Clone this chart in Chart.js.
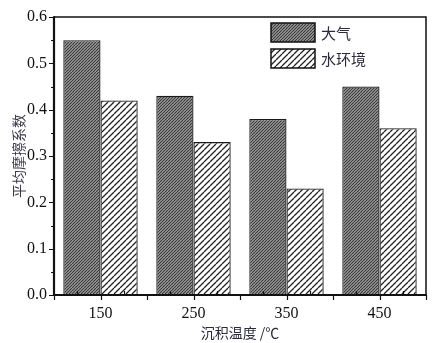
<!DOCTYPE html>
<html>
<head>
<meta charset="utf-8">
<script src="https://cdn.jsdelivr.net/npm/chart.js@4/dist/chart.umd.min.js"></script>
<style>
html,body{margin:0;padding:0;background:#fff;}
#wrap{width:448px;height:343px;}
</style>
</head>
<body>
<div id="wrap"><canvas id="c" width="448" height="343"></canvas></div>
<script>
const categories = ['150', '250', '350', '450'];
const seriesNames = ['大气', '水环境'];
const atmosphere = [0.55, 0.43, 0.38, 0.45];
const water = [0.42, 0.33, 0.23, 0.36];
const yTicks = [0, 0.1, 0.2, 0.3, 0.4, 0.5, 0.6];

function makePattern(bg, line, period, lw) {
  const c = document.createElement('canvas');
  c.width = period; c.height = period;
  const g = c.getContext('2d');
  g.fillStyle = bg; g.fillRect(0, 0, period, period);
  g.strokeStyle = line; g.lineWidth = lw;
  g.beginPath();
  for (let k = -1; k <= 1; k++) {
    g.moveTo(k * period, period);
    g.lineTo(k * period + period, 0);
  }
  g.stroke();
  return g.createPattern(c, 'repeat');
}
const ctx0 = document.getElementById('c').getContext('2d');
const darkPat = makePattern('#a4a4a4', '#363636', 3, 1.1);
const lightPat = makePattern('#ffffff', '#222222', 6, 1.3);

const L = 54, R = 426, T = 17, B = 295;

const framePlugin = {
  id: 'frame',
  afterDraw(chart) {
    const c = chart.ctx, a = chart.chartArea;
    const xs = chart.scales.x, ys = chart.scales.y;
    c.save();
    c.strokeStyle = '#111';
    c.lineWidth = 1.5;
    c.beginPath();
    c.moveTo(a.left, a.top); c.lineTo(a.right, a.top); c.lineTo(a.right, a.bottom);
    c.stroke();
    c.lineWidth = 2.2;
    c.beginPath();
    c.moveTo(a.left, a.top - 0.7); c.lineTo(a.left, a.bottom); c.lineTo(a.right + 0.7, a.bottom);
    c.stroke();
    c.lineWidth = 1.2;
    c.beginPath();
    for (let v = 0; v <= 0.6001; v += 0.05) {
      const y = Math.round(ys.getPixelForValue(v)) + 0.5;
      const major = Math.abs(v * 10 - Math.round(v * 10)) < 1e-6;
      c.moveTo(a.left - (major ? 5 : 3), y); c.lineTo(a.left, y);
    }
    c.stroke();
    const w = (xs.getPixelForValue(1) - xs.getPixelForValue(0));
    c.beginPath();
    for (let q = 0; q <= 16; q++) {
      const x = Math.round(a.left + q * w / 4) + 0.5;
      if (q % 2 === 0) { c.moveTo(x, a.bottom); c.lineTo(x, a.bottom + 5); }
      else { c.moveTo(x, a.bottom); c.lineTo(x, a.bottom - 4); }
    }
    c.stroke();
    const items = [
      {bg: chart.data.datasets[0].backgroundColor, label: chart.data.datasets[0].label, y: 23},
      {bg: chart.data.datasets[1].backgroundColor, label: chart.data.datasets[1].label, y: 49}
    ];
    c.font = '15px "Noto Sans CJK SC"';
    c.textBaseline = 'middle';
    c.textAlign = 'left';
    for (const it of items) {
      c.fillStyle = it.bg;
      c.fillRect(271, it.y, 44, 19);
      c.lineWidth = 1.5;
      c.strokeStyle = '#111';
      c.strokeRect(271, it.y, 44, 19);
      c.fillStyle = '#2a2a3a';
      c.fillText(it.label, 321, it.y + 10);
    }
    c.restore();
  }
};

new Chart(ctx0, {
  type: 'bar',
  data: {
    labels: categories,
    datasets: [
      {label: seriesNames[0], data: atmosphere, backgroundColor: darkPat, borderColor: '#1a1a1a', borderWidth: 1.3, categoryPercentage: 0.8, barPercentage: 1.0},
      {label: seriesNames[1], data: water, backgroundColor: lightPat, borderColor: '#1a1a1a', borderWidth: 1.3, categoryPercentage: 0.8, barPercentage: 1.0}
    ]
  },
  options: {
    responsive: false,
    animation: false,
    devicePixelRatio: 1,
    layout: {padding: {top: T, right: 448 - R, left: 0, bottom: 0}},
    plugins: {legend: {display: false}, tooltip: {enabled: false}},
    scales: {
      x: {
        grid: {display: false, drawTicks: false},
        border: {display: false},
        ticks: {color: '#111', font: {family: '"Liberation Serif"', size: 16}, padding: 9},
        title: {display: true, text: '沉积温度 /℃', color: '#2a2a3a', font: {family: '"Noto Sans CJK SC"', size: 14}, padding: {top: 0, bottom: 2}},
        afterFit(s) { s.height = 343 - B; }
      },
      y: {
        min: 0, max: 0.6,
        afterBuildTicks(s) { s.ticks = yTicks.map(v => ({value: v})); },
        grid: {display: false, drawTicks: false},
        border: {display: false},
        ticks: {color: '#111', font: {family: '"Liberation Serif"', size: 16}, padding: 7, callback: v => Number(v).toFixed(1)},
        title: {display: true, text: '平均摩擦系数', color: '#3a3a4a', font: {family: '"Noto Sans CJK SC"', size: 14}, padding: {top: 10, bottom: 0}},
        afterFit(s) { s.width = L; }
      }
    }
  },
  plugins: [framePlugin]
});
</script>
</body>
</html>
